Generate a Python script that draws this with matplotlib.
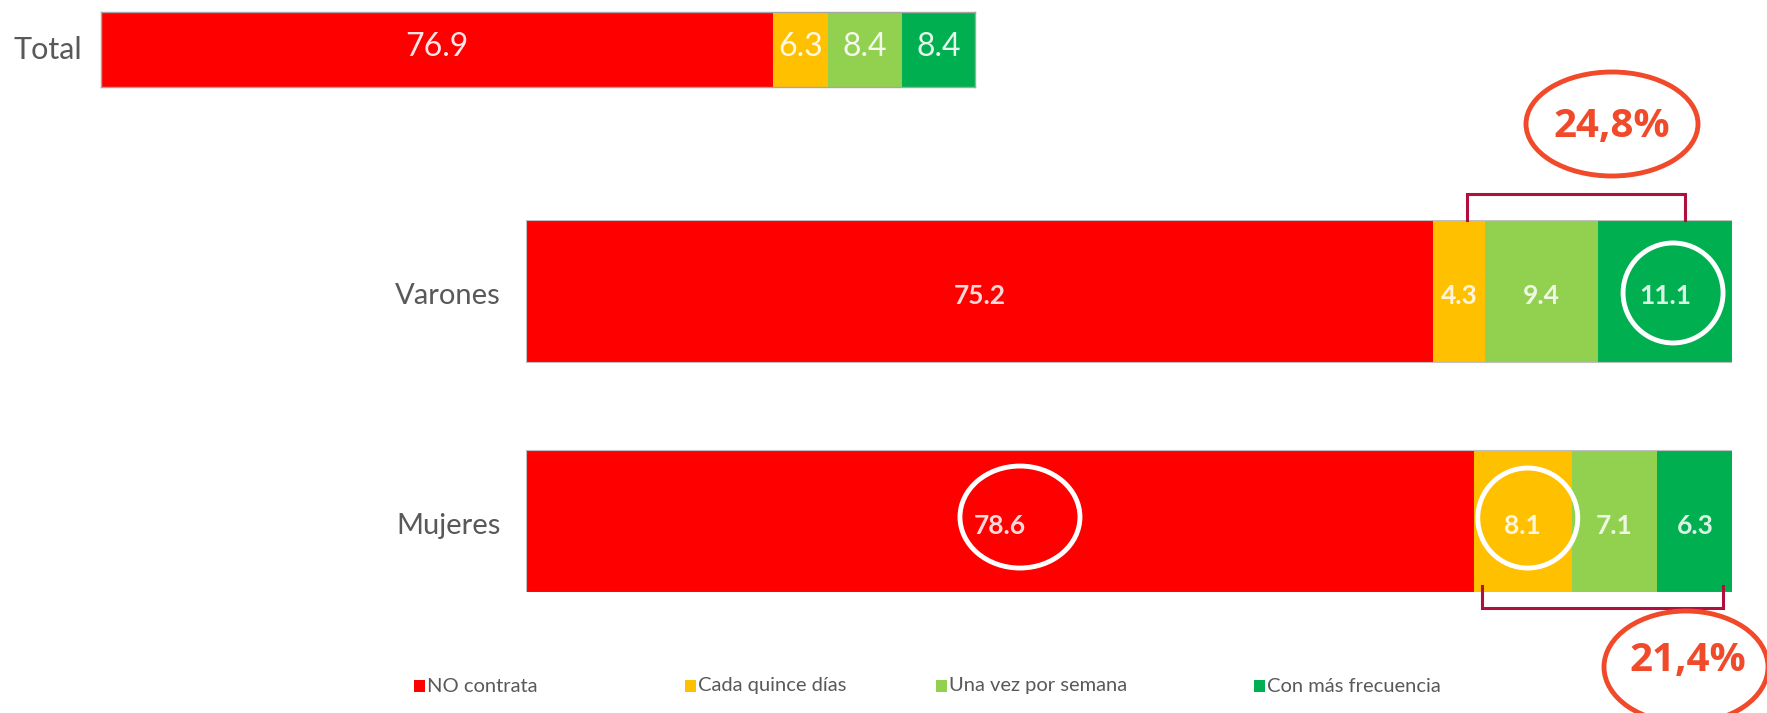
import matplotlib
matplotlib.use("Agg")
import matplotlib.pyplot as plt
from matplotlib.patches import Ellipse, Rectangle
import numpy as np

# ---------------- data ----------------
categories = ["NO contrata", "Cada quince días", "Una vez por semana", "Con más frecuencia"]
colors = ["#FF0000", "#FFC000", "#92D050", "#00B050"]

total_label = "Total"
total_values = [76.9, 6.3, 8.4, 8.4]

groups = ["Varones", "Mujeres"]
varones_values = [75.2, 4.3, 9.4, 11.1]
mujeres_values = [78.6, 8.1, 7.1, 6.3]

pct_labels = ["24,8%", "21,4%"]

W, H = 1767, 713
fig = plt.figure(figsize=(W / 100, H / 100), dpi=100)
fig.patch.set_facecolor("white")

def fbox(x0, y0, x1, y1):
    """pixel box (top-left origin) -> figure fraction [l, b, w, h]"""
    return [x0 / W, 1 - y1 / H, (x1 - x0) / W, (y1 - y0) / H]

label_col = "#595959"
cal = ["Lato", "DejaVu Sans"]

# ---------------- Total bar ----------------
ax1 = fig.add_axes(fbox(101, 12, 975, 87))
left = 0.0
for v, c in zip(total_values, colors):
    ax1.barh(0, v, left=left, height=1.0, color=c, edgecolor="none")
    ax1.text(left + v / 2, 0.04, f"{v:.1f}", ha="center", va="center",
             color="white", alpha=0.9, fontsize=23, family=cal)
    left += v
ax1.set_xlim(0, sum(total_values))
ax1.set_ylim(-0.5, 0.5)
ax1.set_xticks([]); ax1.set_yticks([])
for s in ax1.spines.values():
    s.set_color("#A6A6A6"); s.set_linewidth(1.0)
fig.text(13 / W, 1 - 50 / H, total_label, ha="left", va="center",
         fontsize=22, color=label_col, family=cal)

# ---------------- Varones / Mujeres ----------------
ax_px = (526, 220, 1732, 592)
ax2 = fig.add_axes(fbox(*ax_px))
bh = 0.617
ax2.set_xlim(0, 100)
ax2.set_ylim(1 + bh / 2, -bh / 2)
ax2.axis("off")
ux = (ax_px[2] - ax_px[0]) / 100.0               # px per x unit
uy = (ax_px[3] - ax_px[1]) / (1 + bh)            # px per y unit

group_values = [varones_values, mujeres_values]
seg_pos = []
for i, vals in enumerate(group_values):
    left = 0.0
    segs = []
    for v, c in zip(vals, colors):
        ax2.barh(i, v, left=left, height=bh, color=c, edgecolor="none")
        ax2.text(left + v / 2, i + 5 / uy, f"{v:.1f}", ha="center", va="center",
                 color="white", alpha=0.85, fontsize=19, fontweight="bold",
                 family=cal)
        segs.append((left, v))
        left += v
    seg_pos.append(segs)
    ax2.barh(i, left, height=bh, fill=False, edgecolor="#BFBFBF", linewidth=0.8)
    fig.text(501 / W, 1 - (ax_px[1] + (i + bh / 2) * uy + 5) / H, groups[i],
             ha="right", va="center", fontsize=21, color=label_col, family=cal)

bracket_col = "#B0103C"
# Varones bracket (above)
s1, s3 = seg_pos[0][1], seg_pos[0][3]
xa = s1[0] + 0.65 * s1[1]
xb = s3[0] + 0.65 * s3[1]
ytop = -bh / 2
yb = ytop - 26 / uy
ax2.plot([xa, xa, xb, xb], [ytop, yb, yb, ytop], color=bracket_col, lw=2.2,
         clip_on=False, solid_joinstyle="miter")
# Mujeres bracket (below)
m1, m3 = seg_pos[1][1], seg_pos[1][3]
xa2 = m1[0] + 0.08 * m1[1]
xb2 = m3[0] + 0.87 * m3[1]
ybot = 1 + bh / 2 - 6 / uy
yb2 = 1 + bh / 2 + 16 / uy
ax2.plot([xa2, xa2, xb2, xb2], [ybot, yb2, yb2, ybot], color=bracket_col, lw=2.2,
         clip_on=False, solid_joinstyle="miter")

# white circles around highlighted values
def white_ring(x, y, wpx, hpx):
    e = Ellipse((x, y), wpx / ux, hpx / uy, fill=False, edgecolor="white",
                lw=3.5, clip_on=False)
    ax2.add_patch(e)

sv = seg_pos[0][3]
white_ring(sv[0] + sv[1] / 2 + 8 / ux, 0 + 2 / uy, 100, 100)
sm = seg_pos[1][1]
white_ring(sm[0] + sm[1] / 2 + 5 / ux, 1 - 3 / uy, 100, 100)
sr = seg_pos[1][0]
white_ring(sr[0] + sr[1] / 2 + 20 / ux, 1 - 4 / uy, 120, 102)

# orange ellipses with percentages
pct_col = "#F04A2A"
def pct_ellipse(cx, cy, wpx, hpx, text, tx, ty):
    e = Ellipse((cx / W, 1 - cy / H), wpx / W, hpx / H, transform=fig.transFigure,
                fill=False, edgecolor=pct_col, lw=3.5, clip_on=False)
    fig.add_artist(e)
    fig.text(tx / W, 1 - ty / H, text, ha="center", va="center", color=pct_col,
             fontsize=29, fontweight="bold", family=["Open Sans", "DejaVu Sans"])

pct_ellipse(1612, 124, 172, 104, pct_labels[0], 1612, 126)

# ---------------- legend ----------------
leg_x = [419, 690, 941, 1259]
leg_y = 686
for x, c, t in zip(leg_x, colors, categories):
    fig.add_artist(Rectangle(((x - 5) / W, 1 - (leg_y + 6) / H), 11 / W, 12 / H,
                             transform=fig.transFigure, facecolor=c, edgecolor="none"))
    fig.text((x + 8) / W, 1 - leg_y / H, t, ha="left", va="center", fontsize=14.5,
             color=label_col, family=cal)

pct_ellipse(1686, 667, 164, 112, pct_labels[1], 1688, 660)

fig.savefig("out.png", dpi=100, facecolor="white")
